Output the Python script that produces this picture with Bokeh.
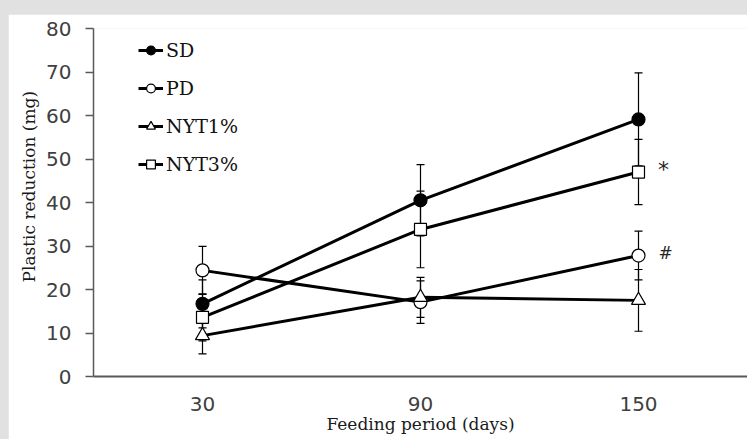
from bokeh.plotting import figure
from bokeh.models import (ColumnDataSource, Whisker, TeeHead, Range1d, FactorRange,
                          Legend, LegendItem, Title, FixedTicker, GlobalInlineStyleSheet)
from bokeh.core.properties import value
from bokeh.embed import file_html
from bokeh.resources import INLINE

# ---- data ----
days = ["30", "90", "150"]
series_names = ["SD", "PD", "NYT1%", "NYT3%"]
sd_mean = [16.7, 40.5, 59.1]
sd_err = [5.5, 8.2, 10.7]
pd_mean = [24.4, 17.1, 27.8]
pd_err = [5.5, 4.9, 5.6]
nyt1_mean = [9.4, 18.2, 17.5]
nyt1_err = [4.2, 4.6, 7.1]
nyt3_mean = [13.6, 33.8, 47.0]
nyt3_err = [5.4, 8.8, 7.5]
y_ticks = [0, 10, 20, 30, 40, 50, 60, 70, 80]
x_label = "Feeding period (days)"
y_label = "Plastic reduction (mg)"
sig_marks = ["*", "#"]
sig_series = ["NYT3%", "PD"]

SERIF = "DejaVu Serif"
SANS = "DejaVu Sans"

p = figure(width=739, height=425, x_range=FactorRange(factors=days, range_padding=0),
           y_range=Range1d(0, 80), output_backend="svg", toolbar_location=None,
           min_border_left=85, min_border_right=0, min_border_top=14, min_border_bottom=63,
           background_fill_color="white", border_fill_color="white")
p.stylesheets = [GlobalInlineStyleSheet(css="body{background:#e1e1e1;margin:14px 0 0 8px;overflow:hidden;}")]
p.outline_line_color = None
p.xgrid.grid_line_color = None
p.ygrid.grid_line_color = None

# axes
p.xaxis.major_tick_line_color = None
p.xaxis.minor_tick_line_color = None
p.xaxis.axis_line_color = "#595959"
p.xaxis.axis_line_width = 2
p.xaxis.major_label_text_font = SANS
p.xaxis.major_label_text_font_size = "20px"
p.xaxis.major_label_text_color = "#404040"
p.xaxis.major_label_standoff = 14
p.xaxis.axis_label = x_label
p.xaxis.axis_label_text_font = SERIF
p.xaxis.axis_label_text_font_size = "17px"
p.xaxis.axis_label_text_font_style = "normal"
p.xaxis.axis_label_text_color = "#1a1a1a"
p.xaxis.axis_label_standoff = 0

p.yaxis.ticker = FixedTicker(ticks=y_ticks)
p.yaxis.major_tick_out = 8
p.yaxis.major_tick_in = 0
p.yaxis.minor_tick_line_color = None
p.yaxis.major_tick_line_color = "#595959"
p.yaxis.major_tick_line_width = 1.5
p.yaxis.axis_line_color = "#595959"
p.yaxis.axis_line_width = 1.5
p.yaxis.major_label_text_font = SANS
p.yaxis.major_label_text_font_size = "20px"
p.yaxis.major_label_text_color = "#404040"
p.yaxis.major_label_standoff = 14

ytitle = Title(text=y_label, align="left", offset=94, text_font=SERIF,
               text_font_size="17px", text_font_style="normal", text_color="#1a1a1a",
               standoff=10)
p.add_layout(ytitle, "left")

series = [
    ("SD", sd_mean, sd_err, "circle", "black", 13),
    ("PD", pd_mean, pd_err, "circle", "white", 13),
    ("NYT1%", nyt1_mean, nyt1_err, "triangle", "white", 14),
    ("NYT3%", nyt3_mean, nyt3_err, "square", "white", 12),
]

items = []
means = {}
for name, mean, err, marker, fill, size in series:
    means[name] = mean
    src = ColumnDataSource(dict(x=days, y=mean,
                                upper=[m + e for m, e in zip(mean, err)],
                                lower=[m - e for m, e in zip(mean, err)]))
    w = Whisker(source=src, base="x", upper="upper", lower="lower",
                line_color="black", line_width=1.2,
                upper_head=TeeHead(size=8, line_color="black", line_width=1.2),
                lower_head=TeeHead(size=8, line_color="black", line_width=1.2))
    p.add_layout(w)
    ln = p.line("x", "y", source=src, line_color="black", line_width=3)
    sc = p.scatter("x", "y", source=src, marker=marker, size=size, fill_color=fill,
                   line_color="black", line_width=1.2)
    items.append(LegendItem(label=name, renderers=[ln, sc]))

# significance marks
sig_src = ColumnDataSource(dict(x=[days[-1]] * len(sig_marks),
                                y=[means[s][-1] for s in sig_series],
                                t=sig_marks, xo=[25, 27], yo=[-3, -3],
                                fs=["22px", "17px"]))
p.text("x", "y", text="t", source=sig_src, x_offset="xo", y_offset="yo",
       text_font=value(SANS), text_font_size="fs", text_align="center",
       text_baseline="middle", text_color="#262626")

legend = Legend(items=items, location=(45, 201), padding=0, margin=0,
                border_line_color=None, background_fill_alpha=0,
                glyph_width=25, glyph_height=22, label_height=22, spacing=16,
                label_standoff=3, label_text_font=SERIF, label_text_font_size="19px",
                label_text_color="#111111")
p.add_layout(legend)

open("out.html", "w").write(file_html(p, INLINE))
